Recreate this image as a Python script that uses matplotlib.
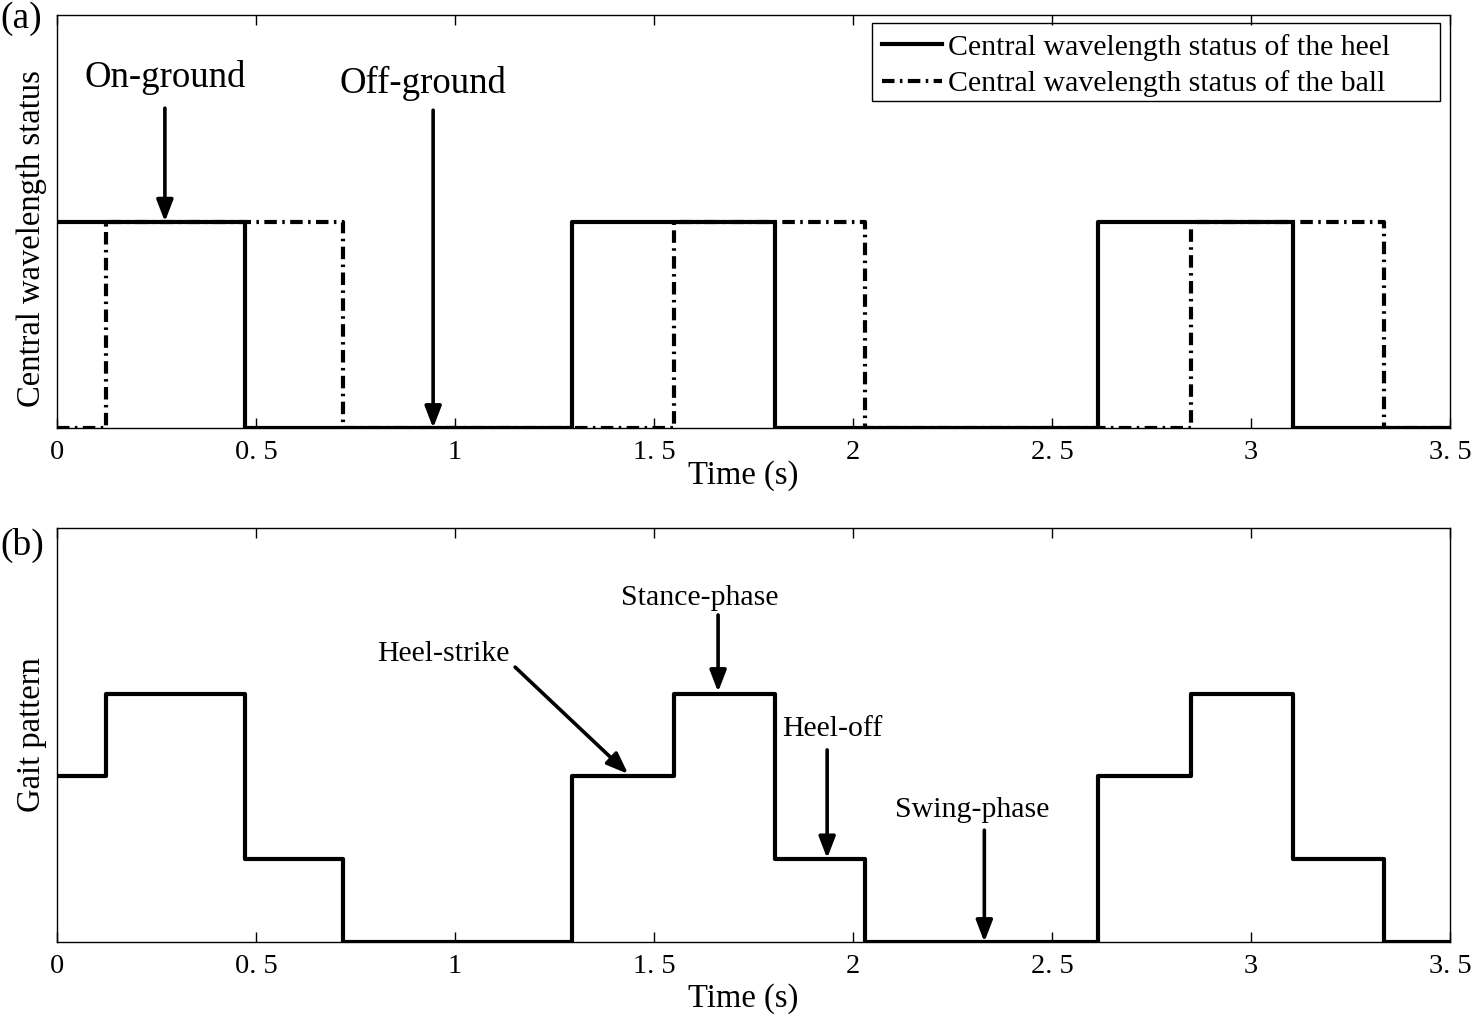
import numpy as np
import matplotlib
matplotlib.use("Agg")
import matplotlib.pyplot as plt
from matplotlib.patches import Rectangle

plt.rcParams["font.family"] = ["Liberation Serif", "DejaVu Serif"]

# switching instants (s) and on/off status of the two sensors
heel_t = [0, 0.472, 1.294, 1.804, 2.616, 3.106, 3.5]
heel_s = [1, 0, 1, 0, 1, 0, 0]
ball_t = [0, 0.123, 0.719, 1.550, 2.030, 2.849, 3.334, 3.5]
ball_s = [0, 1, 0, 1, 0, 1, 0, 0]

# gait pattern levels
gait_t = [0, 0.123, 0.472, 0.719, 1.294, 1.550, 1.804, 2.030, 2.616, 2.849, 3.106, 3.334, 3.5]
gait_s = [2, 3, 1, 0, 2, 3, 1, 0, 2, 3, 1, 0, 0]

xticks = [0, 0.5, 1, 1.5, 2, 2.5, 3, 3.5]
xticklabels = ["0", "0. 5", "1", "1. 5", "2", "2. 5", "3", "3. 5"]

# (label, text x, text y, arrow tail, arrow head)
notes_a = [
    ("On-ground", 0.271, 1.70, (0.271, 1.55), (0.271, 1.0)),
    ("Off-ground", 0.92, 1.67, (0.945, 1.54), (0.945, 0.0)),
]
notes_b = [
    ("Heel-strike", 0.970, 3.48, (1.151, 3.32), (1.435, 2.03)),
    ("Stance-phase", 1.616, 4.15, (1.661, 3.95), (1.661, 3.02)),
    ("Heel-off", 1.947, 2.57, (1.935, 2.32), (1.935, 1.01)),
    ("Swing-phase", 2.299, 1.59, (2.33, 1.35), (2.33, 0.0)),
]

fig = plt.figure(figsize=(14.74, 10.19), dpi=100)
ax1 = fig.add_axes([0.0387, 0.580, 0.945, 0.405])
ax2 = fig.add_axes([0.0387, 0.0756, 0.945, 0.4062])

arrow = dict(arrowstyle="-|>,head_length=1.3,head_width=0.5", lw=2.6,
             color="k", shrinkA=0, shrinkB=0, mutation_scale=10)

ax1.plot(ball_t, ball_s, drawstyle="steps-post", color="k", lw=3,
         linestyle=(0, (3, 1.3, 0.6, 1.3)), label="Central wavelength status of the ball")
ax1.plot(heel_t, heel_s, drawstyle="steps-post", color="k", lw=3,
         label="Central wavelength status of the heel", zorder=3)
ax1.set_ylim(0, 2)
handles, labels = ax1.get_legend_handles_labels()
ax1.legend(handles[::-1], labels[::-1], loc="upper left",
           bbox_to_anchor=(0.5851, 0.9806), fontsize=21.5, frameon=False,
           borderpad=0.35, labelspacing=0.32, handlelength=2.0,
           handletextpad=0.2, borderaxespad=0)
# MATLAB-style legend box, wider than its contents
ax1.add_patch(Rectangle((0.5851, 0.7918), 0.4078, 0.1889, transform=ax1.transAxes,
                        facecolor="none", edgecolor="k", lw=1.0, zorder=4))
for name, tx, ty, tail, head in notes_a:
    ax1.text(tx, ty, name, fontsize=26.5, ha="center", va="center")
    ax1.annotate("", xy=head, xytext=tail, arrowprops=arrow)
ax1.set_ylabel("Central wavelength status", fontsize=23.5)
ax1.yaxis.set_label_coords(-0.0072, 0.46)

ax2.plot(gait_t, gait_s, drawstyle="steps-post", color="k", lw=3)
ax2.set_ylim(0, 5)
for name, tx, ty, tail, head in notes_b:
    ax2.text(tx, ty, name, fontsize=21.5, ha="center", va="center")
    ax2.annotate("", xy=head, xytext=tail, arrowprops=arrow)
ax2.set_ylabel("Gait pattern", fontsize=23.5)
ax2.yaxis.set_label_coords(-0.0072, 0.5)

for ax in (ax1, ax2):
    ax.set_xlim(0, 3.5)
    ax.set_xticks(xticks)
    ax.set_xticklabels(xticklabels)
    ax.set_yticks([])
    ax.tick_params(axis="x", direction="in", top=True, length=7.2, width=1,
                   labelsize=20.5, pad=9)
    ax.set_xlabel("Time (s)", fontsize=23.5)
    for sp in ax.spines.values():
        sp.set_linewidth(1.0)

ax1.xaxis.set_label_coords(0.4925, -0.079)
ax2.xaxis.set_label_coords(0.4925, -0.1)

fig.text(0.0, 0.999, "(a)", fontsize=27, ha="left", va="top")
fig.text(0.0, 0.482, "(b)", fontsize=27, ha="left", va="top")

fig.savefig("out.png", dpi=100)
